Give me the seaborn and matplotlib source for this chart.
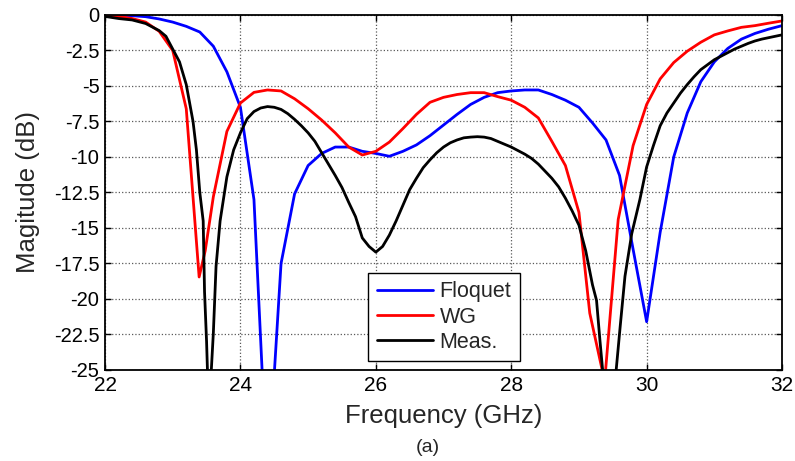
import numpy as np
import pandas as pd
import matplotlib
matplotlib.use("Agg")
import matplotlib.pyplot as plt
import seaborn as sns

# ---- data ----
floquet_freq = [22.0, 22.2, 22.4, 22.6, 22.8, 23.0, 23.2, 23.4, 23.6, 23.8, 24.0, 24.2, 24.4,
                24.6, 24.8, 25.0, 25.2, 25.4, 25.6, 25.8, 26.0, 26.2, 26.4, 26.6, 26.8, 27.0,
                27.2, 27.4, 27.6, 27.8, 28.0, 28.2, 28.4, 28.6, 28.8, 29.0, 29.2, 29.4, 29.6,
                29.8, 30.0, 30.2, 30.4, 30.6, 30.8, 31.0, 31.2, 31.4, 31.6, 31.8, 32.0]
floquet_db = [0.0, -0.02, -0.05, -0.12, -0.28, -0.5, -0.8, -1.2, -2.2, -4.0, -6.5, -13.0, -33.0,
              -17.5, -12.6, -10.6, -9.75, -9.3, -9.3, -9.6, -9.75, -9.95, -9.6, -9.15, -8.5, -7.75,
              -7.0, -6.3, -5.8, -5.47, -5.35, -5.28, -5.28, -5.6, -6.0, -6.5, -7.6, -8.8, -11.3,
              -16.5, -21.6, -15.3, -10.0, -6.9, -4.7, -3.3, -2.35, -1.7, -1.3, -1.0, -0.75]

wg_freq = [22.0, 22.2, 22.4, 22.6, 22.8, 23.0, 23.2, 23.39, 23.48, 23.6, 23.8, 24.0, 24.2, 24.4,
           24.6, 24.8, 25.0, 25.2, 25.4, 25.6, 25.8, 26.0, 26.2, 26.4, 26.6, 26.8, 27.0, 27.2,
           27.4, 27.6, 27.8, 28.0, 28.2, 28.4, 28.6, 28.8, 29.0, 29.16, 29.38, 29.58, 29.8, 30.0,
           30.2, 30.4, 30.6, 30.8, 31.0, 31.2, 31.4, 31.6, 31.8, 32.0]
wg_db = [0.0, -0.1, -0.25, -0.5, -1.15, -2.5, -6.6, -18.45, -16.6, -12.8, -8.2, -6.2, -5.45, -5.28,
         -5.35, -5.9, -6.6, -7.4, -8.3, -9.3, -9.86, -9.6, -8.95, -8.0, -7.0, -6.15, -5.8, -5.6,
         -5.47, -5.47, -5.75, -6.0, -6.5, -7.25, -8.9, -10.6, -13.9, -21.0, -25.8, -14.4, -9.2, -6.3,
         -4.5, -3.35, -2.55, -1.92, -1.4, -1.12, -0.87, -0.75, -0.58, -0.42]

meas_freq = [22.0, 22.2, 22.4, 22.6, 22.8, 22.9, 23.0, 23.1, 23.2, 23.3, 23.35, 23.4, 23.45, 23.47,
             23.5, 23.545, 23.57, 23.6, 23.64, 23.7, 23.8, 23.9, 24.0, 24.1, 24.2, 24.3, 24.4, 24.5,
             24.6, 24.7, 24.8, 24.9, 25.0, 25.1, 25.2, 25.3, 25.4, 25.5, 25.6, 25.7, 25.8, 25.9,
             26.0, 26.1, 26.2, 26.3, 26.4, 26.5, 26.6, 26.7, 26.8, 26.9, 27.0, 27.1, 27.2, 27.3,
             27.4, 27.5, 27.6, 27.7, 27.8, 27.9, 28.0, 28.1, 28.2, 28.3, 28.4, 28.5, 28.6, 28.7,
             28.8, 28.9, 29.0, 29.1, 29.2, 29.26, 29.31, 29.35, 29.45, 29.55, 29.61, 29.68, 29.78,
             29.9, 30.0, 30.1, 30.2, 30.3, 30.4, 30.5, 30.6, 30.7, 30.8, 30.9, 31.0, 31.1, 31.2,
             31.3, 31.4, 31.5, 31.6, 31.7, 31.8, 31.9, 32.0]
meas_db = [-0.1, -0.25, -0.35, -0.6, -1.1, -1.5, -2.4, -3.3, -4.9, -7.5, -9.5, -12.5, -14.5, -19.5,
           -23.0, -30.0, -25.0, -22.4, -17.7, -14.5, -11.4, -9.5, -8.3, -7.3, -6.8, -6.55, -6.45, -6.5,
           -6.65, -6.95, -7.35, -7.8, -8.3, -8.9, -9.7, -10.5, -11.3, -12.15, -13.2, -14.2, -15.7, -16.3,
           -16.7, -16.3, -15.5, -14.5, -13.4, -12.3, -11.5, -10.75, -10.2, -9.7, -9.3, -9.0, -8.8, -8.65,
           -8.6, -8.57, -8.6, -8.7, -8.9, -9.1, -9.3, -9.55, -9.8, -10.1, -10.5, -11.0, -11.5, -12.1,
           -12.9, -13.8, -14.8, -16.6, -19.0, -20.1, -22.9, -25.0, -29.0, -25.0, -21.9, -18.4, -15.4,
           -13.0, -10.7, -9.2, -7.8, -6.9, -6.2, -5.5, -4.9, -4.35, -3.85, -3.5, -3.15, -2.9, -2.65,
           -2.4, -2.2, -2.0, -1.83, -1.7, -1.6, -1.5, -1.4]

series_names = ["Floquet", "WG", "Meas."]
series_colors = ["#0000FF", "#FF0000", "#000000"]
x_ticks = [22, 24, 26, 28, 30, 32]
y_ticks = [0, -2.5, -5, -7.5, -10, -12.5, -15, -17.5, -20, -22.5, -25]
y_tick_labels = ["0", "-2.5", "-5", "-7.5", "-10", "-12.5", "-15", "-17.5", "-20", "-22.5", "-25"]
x_label = "Frequency (GHz)"
y_label = "Magitude (dB)"
caption = "(a)"

# ---- build long-form table ----
df = pd.concat([
    pd.DataFrame({"freq": floquet_freq, "db": floquet_db, "series": series_names[0]}),
    pd.DataFrame({"freq": wg_freq, "db": wg_db, "series": series_names[1]}),
    pd.DataFrame({"freq": meas_freq, "db": meas_db, "series": series_names[2]}),
], ignore_index=True)

sns.set_theme(style="white")
plt.rcParams['font.family'] = ['Liberation Sans', 'DejaVu Sans']
plt.rcParams['axes.unicode_minus'] = False

fig = plt.figure(figsize=(7.95, 4.61), dpi=100)
ax = fig.add_axes([0.1321, 0.1974, 0.8516, 0.7701])

sns.lineplot(data=df, x="freq", y="db", hue="series", hue_order=series_names,
             palette=series_colors, estimator=None, sort=False, linewidth=2.0, ax=ax)

ax.set_xlim(22, 32)
ax.set_ylim(-25, 0)
ax.set_xticks(x_ticks)
ax.set_xticklabels([str(t) for t in x_ticks])
ax.set_yticks(y_ticks)
ax.set_yticklabels(y_tick_labels)

ax.grid(True, linestyle=':', color='0.35', linewidth=0.9)
ax.tick_params(direction='in', length=4, width=1, top=True, right=True,
               bottom=True, left=True, colors='black', pad=4)
ax.tick_params(axis='x', labelsize=15)
ax.tick_params(axis='y', labelsize=14.5)
for sp in ax.spines.values():
    sp.set_visible(True)
    sp.set_color('black')
    sp.set_linewidth(1.3)

ax.set_xlabel(x_label, fontsize=18.5, labelpad=7)
ax.set_ylabel(y_label, fontsize=18.5, labelpad=10)

handles, labels = ax.get_legend_handles_labels()
if ax.get_legend() is not None:
    ax.get_legend().remove()
leg = ax.legend(handles, labels, loc='lower left', bbox_to_anchor=(0.389, 0.024),
                borderaxespad=0, fontsize=15.5, frameon=True, fancybox=False,
                shadow=False, framealpha=1, edgecolor='black', borderpad=0.4,
                handlelength=2.6, handletextpad=0.3, labelspacing=0.2)
leg.get_frame().set_linewidth(1.0)
for l in leg.get_lines():
    l.set_linewidth(2.0)

fig.text(0.538, 0.030, caption, ha='center', va='center', fontsize=14)

fig.savefig("out.png", dpi=100)
